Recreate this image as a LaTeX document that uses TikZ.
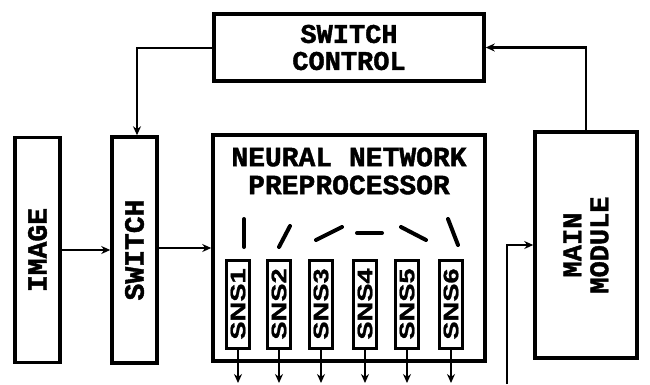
\documentclass[tikz,border=0pt]{standalone}
\usepackage{fontspec}
\newfontfamily\heavy{Liberation Mono}[BoldFeatures={FakeBold=1.5}]
\newfontfamily\snsfont{Liberation Sans}[BoldFeatures={FakeBold=1}]
\usetikzlibrary{arrows.meta}
\begin{document}
\begin{tikzpicture}[x=1pt,y=-1pt,
  box/.style={draw,line width=3.5pt,rectangle,inner sep=0pt},
  lbl/.style={inner sep=0pt,align=center,
    font=\heavy\bfseries\fontsize{27}{27}\selectfont},
  snsbox/.style={draw,line width=3pt,rectangle,inner sep=0pt,minimum width=23pt,minimum height=88pt},
  conn/.style={line width=2.8pt},
  arr/.style={conn,-{Stealth[length=9pt,width=8pt]}},
  dashseg/.style={line width=4pt,line cap=round}]
\useasboundingbox (0,0) rectangle (650,384);
% boxes
\node[box,minimum width=270pt,minimum height=67pt] (sc) at (349,47.5) {};
\node[lbl] (sclabel) at (sc.center) {SWITCH\\CONTROL};
\node[box,minimum width=45pt,minimum height=225pt] (img) at (37.5,250) {};
\node[lbl,rotate=90,font=\heavy\bfseries\fontsize{28}{28}\selectfont] (imglabel) at (img.center) {IMAGE};
\node[box,minimum width=45pt,minimum height=226pt] (sw) at (134.5,250) {};
\node[lbl,rotate=90,font=\heavy\bfseries\fontsize{28}{28}\selectfont] (swlabel) at (sw.center) {SWITCH};
\node[box,minimum width=272pt,minimum height=226pt] (nn) at (349,248) {};
\node[lbl,font=\heavy\bfseries\fontsize{28}{28}\selectfont] (nnlabel) at (349,171) {NEURAL~NETWORK\\PREPROCESSOR};
\node[box,minimum width=102pt,minimum height=226pt] (mm) at (586,245) {};
\node[lbl,rotate=90] (mmlabel) at (mm.center) {MAIN\\MODULE};
% SNS boxes
\foreach \i/\x in {1/238,2/279,3/321,4/365,5/407,6/451}{
  \node[snsbox,fill=white] (sns\i) at (\x,304) {};
  \node[rotate=90,inner sep=0pt,font=\snsfont\bfseries\fontsize{21}{21}\selectfont] (snslabel\i) at (sns\i.center) {\scalebox{1.3}[1]{SNS\i}};
  \coordinate (o\i) at (\x,383);
  \draw[arr] (sns\i.south) -- (o\i);
}
% dashes
\draw[dashseg] (244,219) -- (244,247);
\draw[dashseg] (279,247) -- (290,226);
\draw[dashseg] (316,240) -- (342,227);
\draw[dashseg] (357,233) -- (382,233);
\draw[dashseg] (401,227) -- (426,240);
\draw[dashseg] (448,219) -- (458,245);
% connectors
\coordinate (k1) at (137,48);
\draw[arr] (sc.west |- k1) -- (k1) -- (k1 |- sw.north);
\draw[arr] (img.east) -- (sw.west);
\draw[arr] (sw.east |- 0,248) -- (nn.west);
\draw[arr] (mm.north) |- (sc.east);
\coordinate (bin) at (507,384);
\draw[arr] (bin) |- (mm.west);
\end{tikzpicture}
\end{document}
